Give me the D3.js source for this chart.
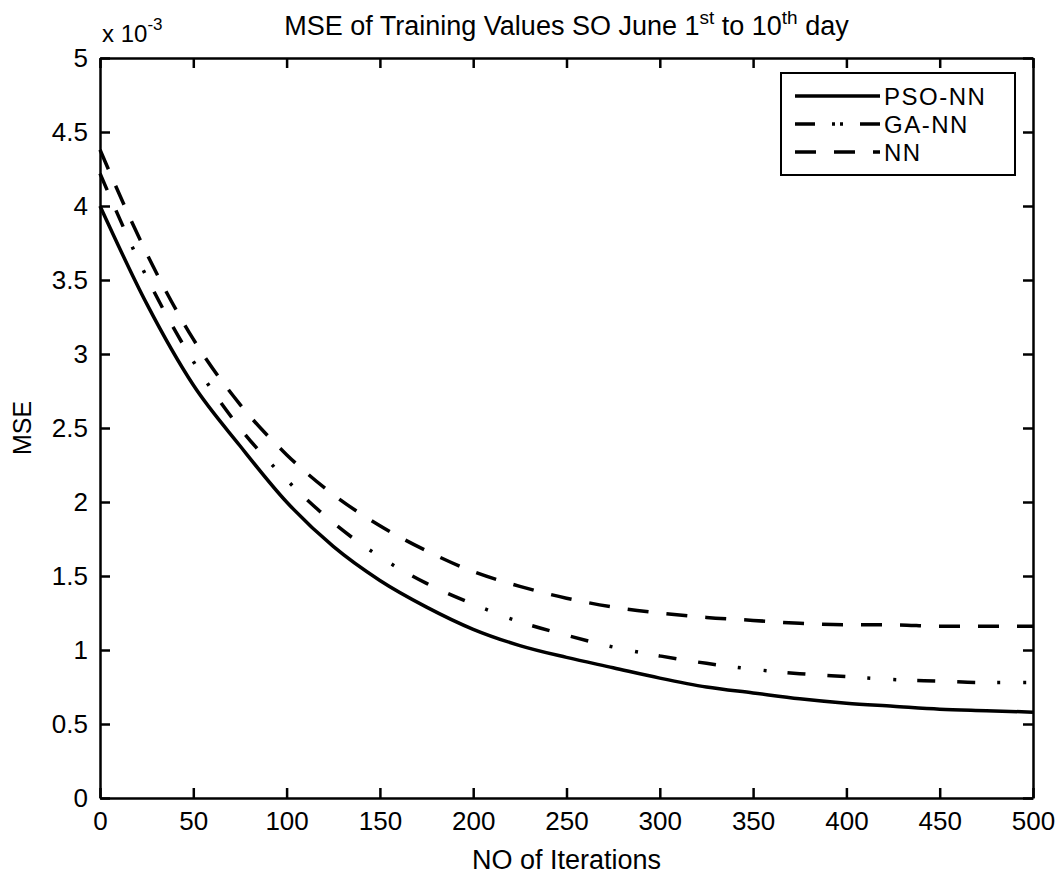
<!DOCTYPE html>
<html lang="en">
<head>
<meta charset="UTF-8"/>
<title>MSE of Training Values</title>
<script src="https://cdn.jsdelivr.net/npm/d3@7"></script>
<style>
    body { margin: 0; background: #fff; }
    svg text { font-family: "Liberation Sans", Arial, sans-serif; fill: #000; }
    .axis path, .axis line { fill: none; stroke: #000; stroke-width: 2.5; }
    .axis text { font-size: 26px; }
    .series { fill: none; stroke: #000; stroke-width: 3.5; }
</style>
</head>
<body>
<script>
// values, MSE in units of 10^-3
const iterations = [0, 25, 50, 75, 100, 125, 150, 175, 200, 225, 250, 275, 300, 325, 350, 375, 400, 425, 450, 475, 500];
const psoNN = [4.00, 3.34, 2.79, 2.38, 2.00, 1.70, 1.47, 1.29, 1.14, 1.03, 0.95, 0.88, 0.81, 0.75, 0.71, 0.67, 0.64, 0.62, 0.60, 0.59, 0.58];
const gaNN  = [4.22, 3.52, 2.95, 2.50, 2.15, 1.86, 1.63, 1.45, 1.31, 1.19, 1.10, 1.02, 0.96, 0.91, 0.87, 0.84, 0.82, 0.80, 0.79, 0.78, 0.78];
const nn    = [4.38, 3.68, 3.10, 2.66, 2.32, 2.05, 1.84, 1.67, 1.53, 1.43, 1.35, 1.29, 1.25, 1.22, 1.20, 1.18, 1.17, 1.17, 1.16, 1.16, 1.16];
const seriesNames = ["PSO-NN", "GA-NN", "NN"];
const xTicks = [0, 50, 100, 150, 200, 250, 300, 350, 400, 450, 500];
const yTicks = [0, 0.5, 1, 1.5, 2, 2.5, 3, 3.5, 4, 4.5, 5];

const width = 1060, height = 874;
const margin = {top: 58, right: 27, bottom: 76, left: 100};
const plotW = width - margin.left - margin.right;
const plotH = height - margin.top - margin.bottom;

const svg = d3.select("body").append("svg")
    .attr("width", width)
    .attr("height", height);

const x = d3.scaleLinear().domain([0, 500]).range([0, plotW]);
const y = d3.scaleLinear().domain([0, 5]).range([plotH, 0]);

const g = svg.append("g")
    .attr("transform", "translate(" + margin.left + "," + margin.top + ")");

// axes, ticks pointing inward on all four sides
g.append("g").attr("class", "axis")
    .attr("transform", "translate(0," + plotH + ")")
    .call(d3.axisBottom(x).tickValues(xTicks).tickSizeInner(-10).tickSizeOuter(0).tickPadding(14));
g.append("g").attr("class", "axis")
    .call(d3.axisLeft(y).tickValues(yTicks).tickSizeInner(-10).tickSizeOuter(0).tickPadding(12)
        .tickFormat(d3.format("")));
g.append("g").attr("class", "axis")
    .call(d3.axisTop(x).tickValues(xTicks).tickSizeInner(-10).tickSizeOuter(0).tickFormat(""));
g.append("g").attr("class", "axis")
    .attr("transform", "translate(" + plotW + ",0)")
    .call(d3.axisRight(y).tickValues(yTicks).tickSizeInner(-10).tickSizeOuter(0).tickFormat(""));

const line = d3.line()
    .x((d, i) => x(iterations[i]))
    .y(d => y(d))
    .curve(d3.curveMonotoneX);

const series = [
    {name: seriesNames[0], values: psoNN, dash: null, legendDash: null},
    {name: seriesNames[1], values: gaNN, dash: "18,22,18,22,3,23,3,21", legendDash: "20,17,3,5,3,17,20"},
    {name: seriesNames[2], values: nn, dash: "21,18", legendDash: "21,18"}
];

g.selectAll(".series")
    .data(series)
    .enter().append("path")
    .attr("class", "series")
    .attr("d", d => line(d.values))
    .attr("stroke-dasharray", d => d.dash);

// legend
const legend = g.append("g").attr("transform", "translate(681,15)");
legend.append("rect")
    .attr("width", 234).attr("height", 102)
    .attr("fill", "#fff").attr("stroke", "#000").attr("stroke-width", 2);
const item = legend.selectAll(".item")
    .data(series)
    .enter().append("g")
    .attr("transform", (d, i) => "translate(0," + (23 + i * 28) + ")");
item.append("line")
    .attr("x1", 14).attr("x2", 99)
    .attr("stroke", "#000").attr("stroke-width", 3.5)
    .attr("stroke-dasharray", d => d.legendDash);
item.append("text")
    .attr("x", 103).attr("dy", "0.36em")
    .style("font-size", "24px")
    .style("letter-spacing", "1.5px")
    .text(d => d.name);

// titles
const title = svg.append("text")
    .attr("x", margin.left + plotW / 2).attr("y", 35)
    .attr("text-anchor", "middle")
    .style("font-size", "27px");
title.append("tspan").text("MSE of Training Values SO June 1");
title.append("tspan").attr("dy", -11).style("font-size", "19px").text("st");
title.append("tspan").attr("dy", 11).text(" to 10");
title.append("tspan").attr("dy", -11).style("font-size", "19px").text("th");
title.append("tspan").attr("dy", 11).text(" day");

const expo = svg.append("text")
    .attr("x", 102).attr("y", 42)
    .style("font-size", "24px");
expo.append("tspan").text("x 10");
expo.append("tspan").attr("dy", -12).style("font-size", "17px").text("-3");

svg.append("text")
    .attr("x", margin.left + plotW / 2).attr("y", 869)
    .attr("text-anchor", "middle")
    .style("font-size", "27px")
    .text("NO of Iterations");

svg.append("text")
    .attr("transform", "translate(31," + (margin.top + plotH / 2) + ") rotate(-90)")
    .attr("text-anchor", "middle")
    .style("font-size", "25px")
    .text("MSE");
</script>
</body>
</html>
